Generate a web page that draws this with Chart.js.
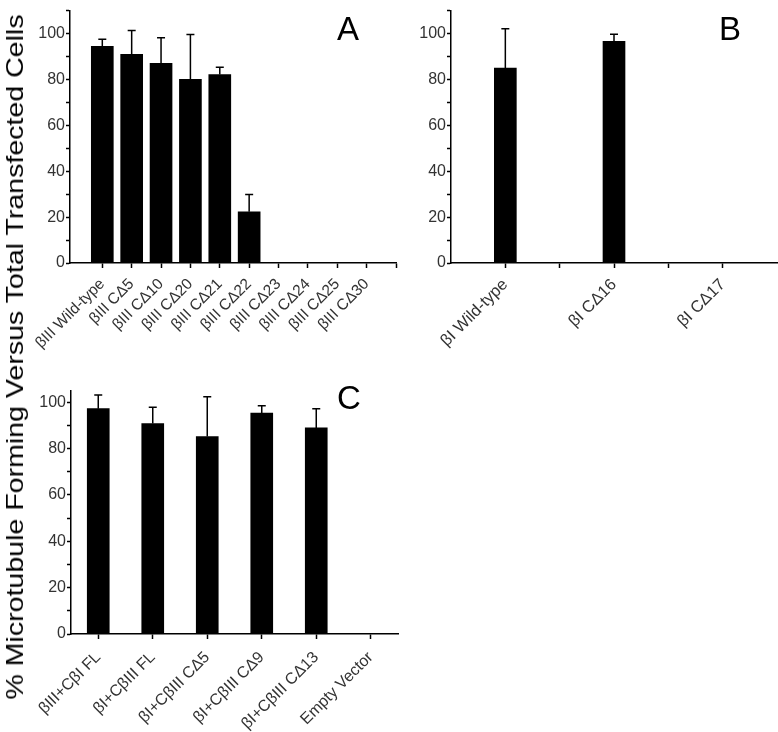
<!DOCTYPE html>
<html>
<head>
<meta charset="utf-8">
<script src="https://cdn.jsdelivr.net/npm/chart.js@4.4.1/dist/chart.umd.min.js"></script>
<style>
  body { margin: 0; background: #fff; }
  #wrap { position: relative; width: 778px; height: 732px; overflow: hidden; font-family: "Liberation Sans", Arial, sans-serif; }
  canvas { position: absolute; }
  .panel { position: absolute; font-size: 33px; color: #000; line-height: 1; }
  #ytitle { position: absolute; left: 15px; top: 357px; transform: translate(-50%, -50%) rotate(-90deg) scaleX(1.19);
            white-space: nowrap; font-size: 24px; color: #000; }
</style>
</head>
<body>
<div id="wrap">
  <canvas id="chartA" style="left:20px;top:0px;width:380px;height:380px" width="380" height="380"></canvas>
  <canvas id="chartB" style="left:410px;top:0px;width:368px;height:380px" width="368" height="380"></canvas>
  <canvas id="chartC" style="left:20px;top:380px;width:390px;height:352px" width="390" height="352"></canvas>
  <div class="panel" style="left:337px;top:12px">A</div>
  <div class="panel" style="left:719px;top:12px">B</div>
  <div class="panel" style="left:337px;top:381px">C</div>
  <div id="ytitle">% Microtubule Forming Versus Total Transfected Cells</div>
</div>
<script>
// Panel A — βIII C-terminal truncations
const labelsA = ["βIII Wild-type", "βIII CΔ5", "βIII CΔ10", "βIII CΔ20", "βIII CΔ21",
                 "βIII CΔ22", "βIII CΔ23", "βIII CΔ24", "βIII CΔ25", "βIII CΔ30"];
const valuesA = [94.4, 90.9, 87.0, 80.1, 82.1, 22.3, 0, 0, 0, 0];
const errorsA = [3.1, 10.4, 11.2, 19.5, 3.2, 7.5, 0, 0, 0, 0];

// Panel B — βI truncations
const labelsB = ["βI Wild-type", "βI CΔ16", "βI CΔ17"];
const valuesB = [85.0, 96.6, 0];
const errorsB = [17.1, 3.1, 0];

// Panel C — chimeras
const labelsC = ["βIII+CβI FL", "βI+CβIII FL", "βI+CβIII CΔ5", "βI+CβIII CΔ9", "βI+CβIII CΔ13", "Empty Vector"];
const valuesC = [97.2, 90.8, 85.2, 95.3, 88.9, 0];
const errorsC = [5.9, 7.0, 17.2, 3.2, 8.3, 0];

const yTicksAB = [0, 10, 20, 30, 40, 50, 60, 70, 80, 90, 100, 110];
const yTicksC = [0, 10, 20, 30, 40, 50, 60, 70, 80, 90, 100];

const FONT = "'Liberation Sans', Arial, sans-serif";

// upper error bars with caps
const errorBars = {
  id: "errorBars",
  afterDatasetsDraw(chart, args, opts) {
    const ctx = chart.ctx;
    const y = chart.scales.y;
    const meta = chart.getDatasetMeta(0);
    ctx.save();
    ctx.strokeStyle = "#000";
    ctx.lineWidth = 1.5;
    meta.data.forEach((bar, i) => {
      const err = opts.values[i];
      if (!err) return;
      const v = chart.data.datasets[0].data[i].y;
      const top = y.getPixelForValue(v + err);
      ctx.beginPath();
      ctx.moveTo(bar.x, bar.y);
      ctx.lineTo(bar.x, top);
      ctx.moveTo(bar.x - 4, top);
      ctx.lineTo(bar.x + 4, top);
      ctx.stroke();
    });
    ctx.restore();
  },
};

function makePanel(id, labels, values, errors, yTicks, cfg) {
  return new Chart(document.getElementById(id), {
    type: "bar",
    data: {
      datasets: [
        {
          data: values.map((v, i) => ({ x: i + 1, y: v })),
          backgroundColor: "#000",
          borderWidth: 0,
          barThickness: 22,
        },
      ],
    },
    plugins: [errorBars],
    options: {
      responsive: false,
      animation: false,
      layout: { padding: cfg.padding },
      scales: {
        x: {
          type: "linear",
          offset: false,
          min: cfg.xMin,
          max: cfg.xMax,
          afterBuildTicks: (s) => {
            s.ticks = cfg.xTicks.map((v) => ({ value: v }));
          },
          afterFit: (s) => {
            s.height = cfg.xHeight;
            s.paddingLeft = 0;
            s.paddingRight = 0;
          },
          ticks: {
            autoSkip: false,
            minRotation: 45,
            maxRotation: 45,
            color: "#333",
            font: { family: FONT, size: cfg.labelSize },
            padding: cfg.labelPad,
            callback: (v) => (Number.isInteger(v) ? labels[v - 1] || "" : ""),
          },
          grid: { offset: false, drawOnChartArea: false, drawTicks: true, tickLength: 5, tickColor: "#000", tickWidth: 1.5 },
          border: { display: true, color: "#000", width: 1.5 },
        },
        y: {
          min: 0,
          max: cfg.yMax,
          afterBuildTicks: (s) => {
            s.ticks = yTicks.map((v) => ({ value: v }));
          },
          afterFit: (s) => {
            s.width = cfg.yWidth;
          },
          ticks: {
            color: "#333",
            font: { family: FONT, size: 16 },
            padding: 1,
            callback: (v) => (v % 20 === 0 ? v : ""),
          },
          grid: { drawOnChartArea: false, drawTicks: true, tickLength: 4, tickColor: "#000", tickWidth: 1.5 },
          border: { display: true, color: "#000", width: 1.5 },
        },
      },
      plugins: {
        legend: { display: false },
        tooltip: { enabled: false },
        errorBars: { values: errors },
      },
    },
  });
}

const chartA = makePanel("chartA", labelsA, valuesA, errorsA, yTicksAB, {
  xMin: -0.1, xMax: 11, xTicks: [1, 2, 3, 4, 5, 6, 7, 8, 9, 10, 11],
  yMax: 110, yWidth: 50, xHeight: 117, labelSize: 15.5, labelPad: 7,
  padding: { top: 1, right: 4, left: 0, bottom: 0 },
});

const chartB = makePanel("chartB", labelsB, valuesB, errorsB, yTicksAB, {
  xMin: 0.5, xMax: 3.5, xTicks: [1, 1.5, 2, 2.5, 3],
  yMax: 110, yWidth: 41, xHeight: 117, labelSize: 16.5, labelPad: 7,
  padding: { top: 1, right: 1, left: 0, bottom: 0 },
});

const chartC = makePanel("chartC", labelsC, valuesC, errorsC, yTicksC, {
  xMin: 0.5, xMax: 6.5, xTicks: [1, 2, 3, 4, 5, 6],
  yMax: 105, yWidth: 51, xHeight: 98, labelSize: 16, labelPad: 9,
  padding: { top: 4, right: 12, left: 0, bottom: 0 },
});
</script>
</body>
</html>
